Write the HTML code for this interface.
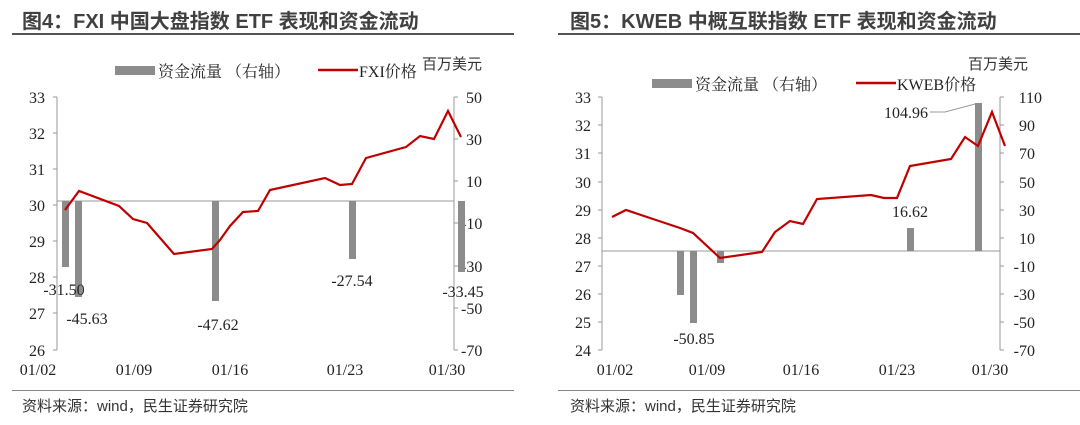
<!DOCTYPE html>
<html><head><meta charset="utf-8"><style>
body{margin:0;background:#fff}
svg{display:block}
.t{font-family:"Liberation Sans","Noto Sans CJK SC",sans-serif;font-weight:bold;font-size:20px;fill:#404040}
.s{font-family:"Liberation Serif","Noto Serif CJK SC",serif;font-size:16px;fill:#222}
.c{font-family:"Liberation Sans","Noto Sans CJK SC",sans-serif;font-size:15px;fill:#333}
</style></head><body>
<svg width="1080" height="425" viewBox="0 0 1080 425" xmlns="http://www.w3.org/2000/svg">
<!-- LEFT -->
<text x="22" y="28" class="t">图4：FXI 中国大盘指数 ETF 表现和资金流动</text>
<rect x="12" y="33" width="502" height="2" fill="#555"/>
<rect x="115" y="66" width="40" height="9" fill="#8c8c8c"/>
<text x="158" y="77" class="s">资金流量 （右轴）</text>
<line x1="318" y1="70" x2="358" y2="70" stroke="#c00000" stroke-width="2.5"/>
<text x="359" y="77" class="s">FXI价格</text>
<text x="422" y="69" class="c">百万美元</text>
<g class="s" text-anchor="end">
<text x="45" y="103">33</text><text x="45" y="139">32</text><text x="45" y="175">31</text><text x="45" y="211">30</text><text x="45" y="247">29</text><text x="45" y="283">28</text><text x="45" y="319">27</text><text x="45" y="356">26</text>
</g>
<g class="s">
<text x="466" y="103">50</text><text x="466" y="145">30</text><text x="466" y="187">10</text><text x="461" y="229">-10</text><text x="461" y="272">-30</text><text x="461" y="314">-50</text><text x="461" y="356">-70</text>
</g>
<g stroke="#999" fill="none">
<path d="M57 97V350M53 97H57M53 133H57M53 169H57M53 205H57M53 241H57M53 277H57M53 313H57M53 350H57"/>
<path d="M454 97V350M454 97H458M454 139H458M454 181H458M454 223H458M454 266H458M454 308H458M454 350H458"/>
<line x1="57" y1="201" x2="454" y2="201"/>
</g>
<g fill="#8c8c8c">
<rect x="62" y="201" width="7" height="66"/><rect x="75" y="201" width="7" height="96"/><rect x="212" y="201" width="7" height="100"/><rect x="349" y="201" width="7" height="58"/><rect x="458" y="201" width="7" height="71"/>
</g>
<polyline fill="none" stroke="#c00000" stroke-width="2.2" points="65,210 79,191 119,206 133,219 147,223 174,254 212,249 220,240 230,226 243,212 258,211 270,190 325,178 340,185 352,184 366,158 406,147 420,136 434,139 448,111 461,137"/>
<g class="s" text-anchor="middle">
<text x="64" y="295">-31.50</text><text x="87" y="324">-45.63</text><text x="218" y="330">-47.62</text><text x="352" y="286">-27.54</text><text x="463" y="297">-33.45</text>
<text x="38" y="375">01/02</text><text x="134" y="375">01/09</text><text x="230" y="375">01/16</text><text x="345" y="375">01/23</text><text x="447" y="375">01/30</text>
</g>
<rect x="12" y="390" width="502" height="1" fill="#888"/>
<text x="22" y="411" class="c">资料来源：wind，民生证券研究院</text>

<!-- RIGHT -->
<text x="570" y="28" class="t">图5：KWEB 中概互联指数 ETF 表现和资金流动</text>
<rect x="558" y="33" width="522" height="2" fill="#555"/>
<text x="968" y="69" class="c">百万美元</text>
<rect x="652" y="79" width="40" height="9" fill="#8c8c8c"/>
<text x="695" y="90" class="s">资金流量 （右轴）</text>
<line x1="856" y1="83" x2="896" y2="83" stroke="#c00000" stroke-width="2.5"/>
<text x="897" y="90" class="s">KWEB价格</text>
<g class="s" text-anchor="end">
<text x="591" y="103">33</text><text x="591" y="131">32</text><text x="591" y="159">31</text><text x="591" y="188">30</text><text x="591" y="216">29</text><text x="591" y="244">28</text><text x="591" y="272">27</text><text x="591" y="300">26</text><text x="591" y="328">25</text><text x="591" y="356">24</text>
</g>
<g class="s" text-anchor="end">
<text x="1042" y="103">110</text><text x="1035" y="131">90</text><text x="1035" y="159">70</text><text x="1035" y="188">50</text><text x="1035" y="216">30</text><text x="1035" y="244">10</text><text x="1035" y="272">-10</text><text x="1035" y="300">-30</text><text x="1035" y="328">-50</text><text x="1035" y="356">-70</text>
</g>
<g stroke="#999" fill="none">
<path d="M602 97V350M598 97H602M598 125H602M598 153H602M598 182H602M598 210H602M598 238H602M598 266H602M598 294H602M598 322H602M598 350H602"/>
<path d="M1000 97V350M1000 97H1004M1000 125H1004M1000 153H1004M1000 182H1004M1000 210H1004M1000 238H1004M1000 266H1004M1000 294H1004M1000 322H1004M1000 350H1004"/>
<line x1="602" y1="251" x2="1000" y2="251"/>
<path d="M930 112H945L975 104"/>
</g>
<g fill="#8c8c8c">
<rect x="677" y="251" width="7" height="44"/><rect x="690" y="251" width="7" height="72"/><rect x="717" y="251" width="7" height="12"/><rect x="907" y="228" width="7" height="23"/><rect x="975" y="103" width="7" height="148"/>
</g>
<polyline fill="none" stroke="#c00000" stroke-width="2.2" points="612,217 626,210 680,228 693,233 720,258 762,252 775,232 790,221 803,224 817,199 871,195 884,198 897,198 910,166 951,159 965,137 978,146 992,112 1005,146"/>
<g class="s" text-anchor="middle">
<text x="694" y="344">-50.85</text><text x="910" y="217">16.62</text><text x="906" y="118">104.96</text>
<text x="615" y="375">01/02</text><text x="707" y="375">01/09</text><text x="801" y="375">01/16</text><text x="897" y="375">01/23</text><text x="990" y="375">01/30</text>
</g>
<rect x="558" y="390" width="522" height="1" fill="#888"/>
<text x="570" y="411" class="c">资料来源：wind，民生证券研究院</text>
</svg>
</body></html>
